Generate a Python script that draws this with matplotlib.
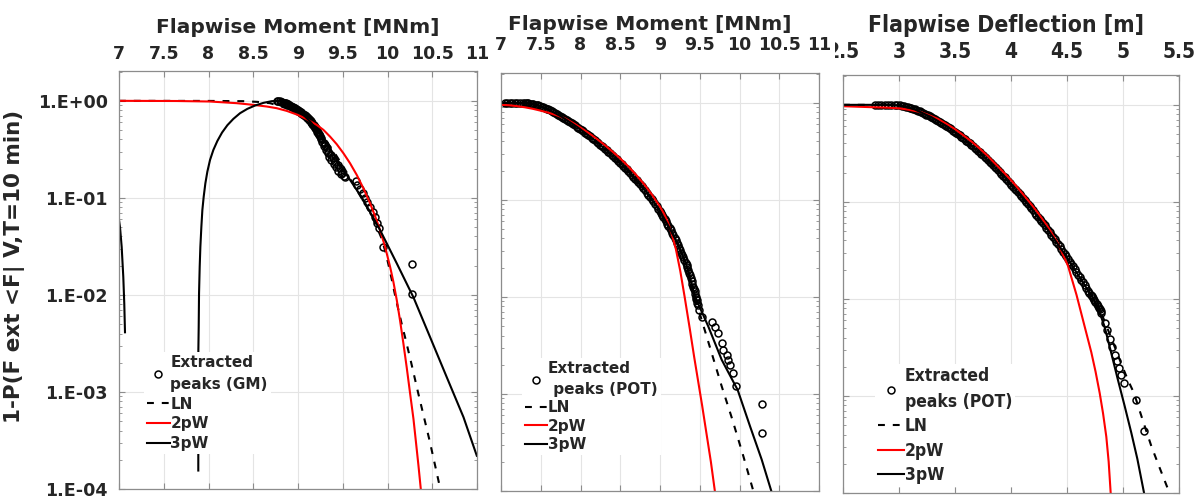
import os
import matplotlib
matplotlib.use("Agg")
import matplotlib.pyplot as plt
from matplotlib import font_manager as fm
from matplotlib.font_manager import FontProperties
from matplotlib.ticker import LogLocator, NullFormatter
from matplotlib.transforms import Bbox

# ---------------- axis ticks ----------------
moment_ticks = [7, 7.5, 8, 8.5, 9, 9.5, 10, 10.5, 11]
moment_tick_labels = ["7", "7.5", "8", "8.5", "9", "9.5", "10", "10.5", "11"]
defl_ticks = [2.5, 3, 3.5, 4, 4.5, 5, 5.5]
defl_tick_labels = ["2.5", "3", "3.5", "4", "4.5", "5", "5.5"]
prob_ticks = [1e-4, 1e-3, 1e-2, 1e-1, 1e0]
prob_tick_labels = ["1.E-04", "1.E-03", "1.E-02", "1.E-01", "1.E+00"]

# ---------------- flapwise moment, global maxima ----------------
gm_peaks_x = [8.762, 8.771, 8.80, 8.81, 8.825, 8.838, 8.85, 8.862, 8.874, 8.885,
              8.893, 8.90, 8.913, 8.925, 8.935, 8.943, 8.952, 8.961, 8.970, 8.978,
              8.987, 8.995, 9.003, 9.011, 9.02, 9.029, 9.038, 9.047, 9.056, 9.065,
              9.073, 9.079, 9.088, 9.097, 9.106, 9.114, 9.12, 9.127, 9.134, 9.14,
              9.146, 9.15, 9.155, 9.161, 9.168, 9.175, 9.181, 9.188, 9.194, 9.199,
              9.205, 9.21,
              9.217, 9.225, 9.235, 9.239, 9.25, 9.254, 9.262, 9.273, 9.285, 9.29,
              9.303, 9.31, 9.321, 9.33, 9.340, 9.35, 9.366, 9.37, 9.388, 9.40,
              9.414, 9.42, 9.444, 9.45, 9.470, 9.48, 9.496, 9.51, 9.526,
              9.649, 9.664, 9.694, 9.724, 9.750, 9.776, 9.806, 9.835, 9.861, 9.887,
              9.910, 9.955, 10.271, 10.271]
gm_peaks_p = [1.0, 1.0, 0.99, 0.98, 0.97, 0.96, 0.95, 0.94, 0.93, 0.92,
              0.91, 0.90, 0.89, 0.88, 0.87, 0.86, 0.85, 0.84, 0.83, 0.82,
              0.81, 0.80, 0.79, 0.78, 0.77, 0.76, 0.75, 0.74, 0.73, 0.72,
              0.71, 0.70, 0.69, 0.68, 0.67, 0.66, 0.65, 0.64, 0.63, 0.62,
              0.61, 0.60, 0.59, 0.58, 0.57, 0.56, 0.55, 0.54, 0.53, 0.52,
              0.51, 0.50,
              0.482, 0.47, 0.46, 0.446, 0.43, 0.412, 0.40, 0.38, 0.37, 0.34,
              0.351, 0.31, 0.324, 0.29, 0.300, 0.265, 0.277, 0.245, 0.256, 0.226,
              0.236, 0.21, 0.218, 0.19, 0.202, 0.175, 0.182, 0.17, 0.163,
              0.150, 0.136, 0.122, 0.111, 0.100, 0.0898, 0.0802, 0.0711, 0.0633, 0.0554,
              0.0485, 0.0314, 0.0206, 0.0103]

gm_ln_x = [7.0, 8.0, 8.39, 8.55, 8.688, 8.80, 8.911, 9.02, 9.135, 9.23,
           9.321, 9.415, 9.507, 9.58, 9.656, 9.712, 9.768, 9.83, 9.88, 9.935,
           9.972, 10.009, 10.047, 10.084, 10.121, 10.159, 10.20, 10.26, 10.34, 10.405,
           10.47, 10.53, 10.59]
gm_ln_p = [1.0, 0.998, 0.992, 0.975, 0.946, 0.885, 0.807, 0.70, 0.588, 0.48,
           0.380, 0.285, 0.210, 0.16, 0.121, 0.0986, 0.0809, 0.0631, 0.0501, 0.0380,
           0.0288, 0.0209, 0.0145, 0.0100, 0.00708, 0.00501, 0.00355, 0.00209, 0.0010, 0.000562,
           0.000316, 0.000178, 0.0001]

gm_2pw_x = [7.0, 7.645, 8.017, 8.315, 8.502, 8.651, 8.762, 8.874, 8.997, 9.098,
            9.209, 9.284, 9.358, 9.433, 9.508, 9.582, 9.657, 9.731, 9.806, 9.861,
            9.917, 9.973, 10.029, 10.066, 10.104, 10.141, 10.178, 10.215, 10.253, 10.290,
            10.320, 10.346, 10.372]
gm_2pw_p = [1.0, 0.996, 0.984, 0.946, 0.909, 0.874, 0.840, 0.788, 0.717, 0.647,
            0.565, 0.502, 0.428, 0.357, 0.288, 0.227, 0.172, 0.1253, 0.0877, 0.0649,
            0.0465, 0.0313, 0.0195, 0.0136, 0.00881, 0.00539, 0.00314, 0.00178, 0.000957, 0.000528,
            0.000292, 0.000174, 0.0001]

gm_3pw_x = [7.886, 7.8867, 7.8905, 7.8942, 7.9016, 7.9091, 7.9203, 7.9314, 7.9463, 7.9650,
            7.9873, 8.0171, 8.0544, 8.0991, 8.1513, 8.2109, 8.2779, 8.3525, 8.4344, 8.5201,
            8.6133, 8.7064, 8.78, 8.874, 8.986, 9.060, 9.135, 9.228, 9.321, 9.414,
            9.507, 9.619, 9.731, 9.824, 9.917, 10.104, 10.290, 10.476, 10.662, 10.849,
            10.998]
gm_3pw_p = [0.000155, 0.00268, 0.00467, 0.0103, 0.0195, 0.0313, 0.0504, 0.0749, 0.1028, 0.1413,
            0.1864, 0.246, 0.312, 0.386, 0.471, 0.561, 0.652, 0.746, 0.827, 0.895,
            0.953, 0.992, 1.0, 0.939, 0.807, 0.717, 0.612, 0.482, 0.366, 0.266,
            0.194, 0.136, 0.095, 0.0665, 0.0466, 0.0211, 0.00944, 0.00367, 0.00142, 0.00055,
            0.00022]
# second branch of the 3pW fit close to the lower x limit
gm_3pw_branch_x = [6.992, 7.011, 7.030, 7.048, 7.059, 7.067]
gm_3pw_branch_p = [0.0663, 0.0502, 0.0312, 0.0153, 0.0081, 0.00412]

# ---------------- flapwise moment, peaks over threshold ----------------
potm_peaks_x = [7.050, 7.0815, 7.113, 7.1445, 7.176, 7.2075, 7.239, 7.2705, 7.302, 7.323,
                7.344, 7.365, 7.386, 7.407, 7.428, 7.449, 7.470, 7.491, 7.512, 7.5325,
                7.553, 7.574, 7.595, 7.616, 7.637, 7.658, 7.679, 7.700, 7.721, 7.742,
                7.763, 7.784, 7.805, 7.826, 7.847, 7.868, 7.889, 7.910, 7.931, 7.952,
                7.973, 7.994, 8.015, 8.036, 8.057, 8.078, 8.099, 8.1195, 8.140, 8.161,
                8.182, 8.203, 8.224, 8.245, 8.266, 8.287, 8.308, 8.329, 8.350, 8.371,
                8.392, 8.413, 8.434, 8.455, 8.476, 8.497, 8.518, 8.539, 8.560, 8.581,
                8.602, 8.623, 8.644, 8.665, 8.686, 8.7065, 8.727, 8.748, 8.769, 8.790,
                8.811, 8.832, 8.853, 8.874, 8.895, 8.916, 8.937, 8.958, 8.979, 8.9945,
                9.010, 9.026, 9.042, 9.058, 9.074, 9.0895, 9.105, 9.121, 9.137, 9.1525,
                9.168, 9.184, 9.200, 9.2155, 9.231, 9.2435, 9.256, 9.2685, 9.281, 9.2945,
                9.308, 9.3215, 9.335, 9.3455, 9.356, 9.3665, 9.377, 9.3875, 9.398, 9.4085,
                9.419, 9.4265, 9.434, 9.4415, 9.449, 9.4555, 9.462, 9.468, 9.474,
                9.491, 9.524, 9.650, 9.692, 9.733, 9.776, 9.796, 9.839, 9.859, 9.881,
                9.922, 9.956, 10.279, 10.287]
potm_peaks_p = [1.0, 1.0, 1.0, 1.0, 1.0, 1.0, 1.0, 1.0, 1.0, 0.995,
                0.99, 0.983, 0.977, 0.967, 0.958, 0.948, 0.939, 0.926, 0.913, 0.900,
                0.888, 0.871, 0.854, 0.837, 0.821, 0.803, 0.786, 0.769, 0.753, 0.735,
                0.718, 0.701, 0.685, 0.668, 0.651, 0.634, 0.618, 0.601, 0.585, 0.569,
                0.553, 0.537, 0.522, 0.507, 0.492, 0.478, 0.464, 0.450, 0.437, 0.423,
                0.410, 0.397, 0.385, 0.372, 0.360, 0.348, 0.337, 0.325, 0.314, 0.303,
                0.292, 0.281, 0.271, 0.261, 0.252, 0.242, 0.233, 0.224, 0.215, 0.206,
                0.198, 0.190, 0.182, 0.174, 0.166, 0.159, 0.152, 0.145, 0.138, 0.132,
                0.126, 0.119, 0.113, 0.107, 0.102, 0.0963, 0.091, 0.0861, 0.0815, 0.0776,
                0.0738, 0.0703, 0.0669, 0.0634, 0.0601, 0.0570, 0.0540, 0.0511, 0.0484, 0.0458,
                0.0434, 0.0409, 0.0385, 0.0363, 0.0342, 0.0322, 0.0304, 0.0286, 0.0270, 0.0255,
                0.0240, 0.0226, 0.0213, 0.0201, 0.0189, 0.0178, 0.0168, 0.0157, 0.0147, 0.0137,
                0.0128, 0.0121, 0.0114, 0.0107, 0.0101, 0.0096, 0.0092, 0.0087, 0.0083,
                0.00734, 0.00628, 0.00558, 0.00495, 0.00425, 0.00336, 0.00285, 0.00253, 0.00225, 0.0020,
                0.00165, 0.00121, 0.00079, 0.00040]

potm_ln_x = [7.0, 7.30, 7.47, 7.64, 7.80, 7.97, 8.14, 8.31, 8.48, 8.64, 8.81,
             8.98, 9.10, 9.23, 9.34, 9.40, 9.524, 9.65, 9.776, 9.91, 10.048, 10.174]
potm_ln_p = [1.0, 0.995, 0.95, 0.83, 0.69, 0.555, 0.437, 0.337, 0.252, 0.182, 0.126,
             0.0815, 0.054, 0.0342, 0.0205, 0.0125, 0.0058, 0.00264, 0.0012, 0.000545,
             0.000229, 0.0001]

potm_2pw_x = [7.0, 7.1, 7.2, 7.3, 7.4, 7.5, 7.6, 7.7, 7.8, 7.9,
              8.0, 8.1, 8.2, 8.3, 8.4, 8.5, 8.6, 8.7, 8.8, 8.9,
              9.0, 9.05, 9.1, 9.15, 9.2, 9.255, 9.31, 9.377, 9.43, 9.48,
              9.53, 9.587, 9.64, 9.69]
potm_2pw_p = [0.954, 0.945, 0.925, 0.900, 0.868, 0.83, 0.79, 0.745, 0.695, 0.625,
              0.556, 0.490, 0.428, 0.370, 0.316, 0.267, 0.222, 0.181, 0.145, 0.113,
              0.085, 0.072, 0.0585, 0.0440, 0.031, 0.0185, 0.0100, 0.00457, 0.0024, 0.00135,
              0.00076, 0.00038, 0.0002, 0.0001]

potm_3pw_x = [7.0, 7.176, 7.30, 7.386, 7.553, 7.763, 7.973, 8.182, 8.392, 8.602,
              8.811, 8.979, 9.105, 9.231, 9.335, 9.44, 9.608, 9.776, 9.977, 10.132,
              10.279, 10.40]
potm_3pw_p = [1.0, 1.0, 0.99, 0.975, 0.89, 0.72, 0.553, 0.41, 0.292, 0.198,
              0.126, 0.0815, 0.054, 0.0342, 0.0213, 0.0101, 0.00495, 0.00225, 0.00110,
              0.000466, 0.000211, 0.0001]

# ---------------- flapwise deflection, peaks over threshold ----------------
potd_peaks_x = [2.783, 2.8125, 2.842, 2.872, 2.902, 2.9315, 2.961, 2.9835, 3.006, 3.0255,
                3.045, 3.0625, 3.080, 3.095, 3.110, 3.125, 3.140, 3.155, 3.170, 3.1845,
                3.199, 3.214, 3.229, 3.244, 3.259, 3.274, 3.289, 3.3035, 3.318, 3.333,
                3.348, 3.363, 3.378, 3.393, 3.408, 3.423, 3.438, 3.4525, 3.467, 3.482,
                3.497, 3.512, 3.527, 3.542, 3.557, 3.5715, 3.586, 3.601, 3.616, 3.631,
                3.646, 3.661, 3.676, 3.6905, 3.705, 3.720, 3.735, 3.750, 3.765, 3.780,
                3.795, 3.8095, 3.824, 3.839, 3.854, 3.869, 3.884, 3.899, 3.914, 3.9285,
                3.943, 3.958, 3.973, 3.988, 4.003, 4.018, 4.033, 4.048, 4.063, 4.0775,
                4.092, 4.107, 4.122, 4.137, 4.152, 4.167, 4.182, 4.1965, 4.211, 4.226,
                4.241, 4.256, 4.271, 4.286, 4.301, 4.3155, 4.330, 4.345, 4.360, 4.375,
                4.390, 4.405, 4.420, 4.4345, 4.449, 4.464, 4.479, 4.494, 4.509, 4.524,
                4.539, 4.5535, 4.568, 4.583, 4.598, 4.613, 4.628, 4.643, 4.658, 4.673,
                4.688, 4.6995, 4.711, 4.7215, 4.732, 4.7425, 4.753, 4.765, 4.777, 4.7845,
                4.792, 4.7995, 4.807,
                4.836, 4.860, 4.881, 4.902, 4.926, 4.949, 4.964, 4.985, 5.009, 5.119,
                5.188]
potd_peaks_p = [1.0, 1.0, 1.0, 1.0, 1.0, 0.998, 0.995, 0.993, 0.992, 0.980,
                0.969, 0.957, 0.946, 0.935, 0.924, 0.910, 0.896, 0.882, 0.868, 0.854,
                0.841, 0.824, 0.808, 0.792, 0.777, 0.762, 0.747, 0.729, 0.712, 0.695,
                0.679, 0.663, 0.648, 0.633, 0.618, 0.604, 0.590, 0.574, 0.558, 0.543,
                0.528, 0.514, 0.500, 0.484, 0.469, 0.454, 0.440, 0.427, 0.414, 0.401,
                0.388, 0.375, 0.362, 0.349, 0.337, 0.325, 0.314, 0.303, 0.292, 0.281,
                0.270, 0.260, 0.250, 0.240, 0.231, 0.222, 0.213, 0.204, 0.195, 0.187,
                0.179, 0.171, 0.164, 0.157, 0.151, 0.144, 0.137, 0.131, 0.126, 0.120,
                0.114, 0.109, 0.104, 0.0991, 0.0945, 0.0902, 0.0861, 0.0818, 0.0777, 0.0739,
                0.0703, 0.0668, 0.0635, 0.0604, 0.0574, 0.0543, 0.0513, 0.0485, 0.0459, 0.0434,
                0.0411, 0.0389, 0.0368, 0.0347, 0.0327, 0.0308, 0.0290, 0.0274, 0.0258, 0.0243,
                0.0229, 0.0216, 0.0203, 0.0190, 0.0178, 0.0167, 0.0157, 0.0148, 0.0139, 0.0130,
                0.0122, 0.0116, 0.0111, 0.0106, 0.0102, 0.0097, 0.0093, 0.0088, 0.0084, 0.0081,
                0.0078, 0.0075, 0.0072,
                0.0056, 0.0048, 0.0039, 0.0032, 0.00266, 0.00227, 0.00194, 0.00166, 0.00136, 0.00090,
                0.00044]

potd_ln_x = [2.5, 2.8, 3.006, 3.14, 3.289, 3.438, 3.586, 3.735, 3.884, 4.033, 4.182,
             4.330, 4.479, 4.628, 4.732, 4.807, 4.896, 4.985, 5.045, 5.098, 5.179,
             5.253, 5.327, 5.408]
potd_ln_p = [1.0, 1.0, 0.99, 0.896, 0.747, 0.590, 0.440, 0.314, 0.213, 0.137, 0.0861,
             0.0513, 0.0290, 0.0157, 0.0102, 0.00712, 0.00394, 0.00214, 0.00145, 0.00107,
             0.00055, 0.000304, 0.000182, 0.000105]

potd_2pw_x = [2.5, 2.753, 2.9, 3.006, 3.1, 3.199, 3.27, 3.348, 3.42, 3.497,
              3.57, 3.646, 3.72, 3.795, 3.87, 3.943, 4.02, 4.092, 4.17, 4.241,
              4.330, 4.420, 4.509, 4.585, 4.65, 4.717, 4.755, 4.792, 4.822, 4.851,
              4.872, 4.890]
potd_2pw_p = [0.968, 0.946, 0.935, 0.920, 0.885, 0.839, 0.78, 0.715, 0.64, 0.565,
              0.49, 0.420, 0.355, 0.295, 0.24, 0.197, 0.158, 0.126, 0.098, 0.0769,
              0.055, 0.0372, 0.0219, 0.011, 0.00562, 0.00282, 0.00178, 0.00107, 0.00066, 0.00038,
              0.00021, 0.0001]

potd_3pw_x = [2.5, 2.8, 3.006, 3.14, 3.289, 3.438, 3.586, 3.735, 3.884, 4.033, 4.182,
              4.330, 4.479, 4.628, 4.732, 4.777, 4.836, 4.896, 4.955, 5.015, 5.074,
              5.128, 5.188]
potd_3pw_p = [1.0, 1.0, 0.99, 0.896, 0.747, 0.590, 0.440, 0.314, 0.213, 0.137, 0.0861,
              0.0513, 0.0290, 0.0157, 0.0102, 0.0081, 0.00516, 0.00274, 0.00146,
              0.000786, 0.000418, 0.000225, 0.0001]

# ---------------- styling ----------------
FIG_W, FIG_H = 1204, 498
TEXT = "#262626"
SPINE = "#8c8c8c"
GRID = "#e4e4e4"
LW = 1.5
DASH = (0, (3.3, 3.8))


def narrow_font(files, fallback_weight="bold"):
    for name in files:
        for f in fm.fontManager.ttflist:
            if os.path.basename(f.fname) == name:
                return lambda size, p=f.fname: FontProperties(fname=p, size=size)
    return lambda size: FontProperties(family="Liberation Sans", weight=fallback_weight, size=size)


narrow_bold = narrow_font(["DejaVuSansCondensed-Bold.ttf", "LiberationSansNarrow-Bold.ttf"])
bold = lambda size: FontProperties(family="DejaVu Sans", weight="bold", size=size)


def px_rect(left, top, right, bottom):
    return [left / FIG_W, 1 - bottom / FIG_H, (right - left) / FIG_W, (bottom - top) / FIG_H]


fig = plt.figure(figsize=(FIG_W / 100, FIG_H / 100), dpi=100)
ax1 = fig.add_axes(px_rect(119, 71, 477, 489))
ax2 = fig.add_axes(px_rect(501, 73, 819, 491))
ax3 = fig.add_axes(px_rect(843, 75, 1179, 493))


def style_axes(ax, xlim, ticks, labels, tick_font, pad, show_y):
    ax.set_yscale("log")
    ax.set_ylim(1e-4, 2.03)
    ax.set_xlim(*xlim)
    ax.set_xticks(ticks)
    ax.set_xticklabels(labels, fontproperties=tick_font, color=TEXT)
    ax.set_yticks(prob_ticks)
    if show_y:
        ax.set_yticklabels(prob_tick_labels, fontproperties=bold(12.6), color=TEXT)
    else:
        ax.set_yticklabels([])
    ax.yaxis.set_minor_locator(LogLocator(base=10, subs=range(2, 10), numticks=20))
    ax.yaxis.set_minor_formatter(NullFormatter())
    ax.tick_params(axis="x", which="both", top=True, bottom=True, labeltop=True,
                   labelbottom=False, direction="in", length=4, width=0.8,
                   color=SPINE, pad=pad)
    ax.tick_params(axis="y", which="major", left=True, right=True, direction="in",
                   length=4, width=0.8, color=SPINE, pad=7.9, labelleft=show_y)
    ax.tick_params(axis="y", which="minor", left=True, right=True, direction="in",
                   length=2.2, width=0.6, color=SPINE)
    ax.grid(True, which="major", color=GRID, lw=0.8)
    ax.set_axisbelow(True)
    for s in ax.spines.values():
        s.set_color(SPINE)
        s.set_linewidth(0.9)


def draw_curves(ax, px, pp, peak_label, lnx, lnp, w2x, w2p, w3x, w3p):
    ax.plot(px, pp, ls="none", marker="o", ms=5, mfc="none", mec="black", mew=1.1,
            label=peak_label)
    ax.plot(lnx, lnp, color="black", lw=LW, ls=DASH, label="LN")
    ax.plot(w2x, w2p, color="red", lw=LW, label="2pW")
    ax.plot(w3x, w3p, color="black", lw=LW, label="3pW")


def add_legend(ax, anchor_px, prop, handlelength, linespacing, labelspacing):
    leg = ax.legend(loc="upper left",
                    bbox_to_anchor=(anchor_px[0] / FIG_W, 1 - anchor_px[1] / FIG_H),
                    bbox_transform=fig.transFigure, borderaxespad=0, borderpad=0.2,
                    handlelength=handlelength, handletextpad=0.05,
                    labelspacing=labelspacing, numpoints=1, prop=prop,
                    frameon=True, fancybox=False, framealpha=1, facecolor="white",
                    edgecolor="none")
    leg.set_zorder(10)
    for t in leg.get_texts():
        t.set_color(TEXT)
        t.set_linespacing(linespacing)
    return leg


# panel 1: global maxima of the flapwise moment
style_axes(ax1, (7, 11), moment_ticks, moment_tick_labels, bold(12.5), 5.7, True)
draw_curves(ax1, gm_peaks_x, gm_peaks_p, "Extracted\npeaks (GM)",
            gm_ln_x, gm_ln_p, gm_2pw_x, gm_2pw_p, gm_3pw_x, gm_3pw_p)
ax1.plot(gm_3pw_branch_x, gm_3pw_branch_p, color="black", lw=LW)
add_legend(ax1, (143.6, 352), bold(11), 1.5, 1.6, 0.3)

# panel 2: peaks over threshold of the flapwise moment
style_axes(ax2, (7, 11), moment_ticks, moment_tick_labels, bold(12.5), 13.6, False)
draw_curves(ax2, potm_peaks_x, potm_peaks_p, "Extracted\n peaks (POT)",
            potm_ln_x, potm_ln_p, potm_2pw_x, potm_2pw_p, potm_3pw_x, potm_3pw_p)
add_legend(ax2, (522, 358), bold(11), 1.45, 1.5, 0.22)

# panel 3: peaks over threshold of the flapwise deflection
style_axes(ax3, (2.5, 5.5), defl_ticks, defl_tick_labels, narrow_bold(15), 9.4, False)
draw_curves(ax3, potd_peaks_x, potd_peaks_p, "Extracted\npeaks (POT)",
            potd_ln_x, potd_ln_p, potd_2pw_x, potd_2pw_p, potd_3pw_x, potd_3pw_p)
add_legend(ax3, (875, 364), narrow_bold(12.5), 1.45, 1.55, 0.36)

# titles and shared y label
fig.text(298 / FIG_W, 1 - 33 / FIG_H, "Flapwise Moment [MNm]", ha="center",
         va="baseline", fontproperties=bold(14.5), color=TEXT)
fig.text(650 / FIG_W, 1 - 30 / FIG_H, "Flapwise Moment [MNm]", ha="center",
         va="baseline", fontproperties=bold(14.5), color=TEXT)
fig.text(1006 / FIG_W, 1 - 32 / FIG_H, "Flapwise Deflection [m]", ha="center",
         va="baseline", fontproperties=narrow_bold(16.5), color=TEXT)
fig.text(15 / FIG_W, 1 - 266 / FIG_H, "1-P(F ext <F| V,T=10 min)", rotation=90,
         ha="center", va="center", fontproperties=bold(15.5), color=TEXT)

# the first deflection tick label is partly hidden behind the neighbouring panel
fig.canvas.draw()
first = ax3.xaxis.get_major_ticks()[0].label2
first.set_clip_box(Bbox.from_extents(835, 0, FIG_W, FIG_H))
first.set_clip_on(True)

fig.savefig("out.png", dpi=100)
